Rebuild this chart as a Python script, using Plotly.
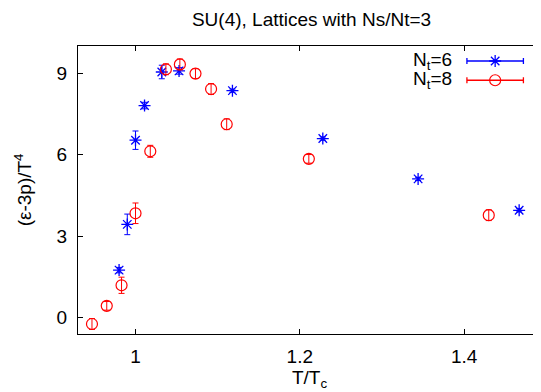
import plotly.graph_objects as go

# Nt = 6 data
t6 = [0.980, 0.990, 1.000, 1.011, 1.032, 1.053, 1.118, 1.228, 1.344, 1.467]
e6 = [1.74, 3.43, 6.54, 7.82, 9.06, 9.10, 8.37, 6.60, 5.11, 3.95]
err6 = [0.10, 0.38, 0.34, 0.12, 0.25, 0.12, 0.06, 0.06, 0.06, 0.06]

# Nt = 8 data
t8 = [0.947, 0.965, 0.983, 1.000, 1.018, 1.037, 1.054, 1.073, 1.092, 1.111, 1.211, 1.430]
e8 = [-0.25, 0.42, 1.18, 3.84, 6.13, 9.16, 9.34, 9.00, 8.43, 7.13, 5.85, 3.77]
err8 = [0.20, 0.16, 0.30, 0.38, 0.22, 0.20, 0.20, 0.18, 0.20, 0.20, 0.16, 0.20]

xticks = [1.0, 1.2, 1.4]
xticklabels = ["1", "1.2", "1.4"]
yticks = [0, 3, 6, 9]

BLUE = "#0000ff"
RED = "#ff0000"
FONT = "Liberation Sans, Arial, sans-serif"
FS = 19

fig = go.Figure()
fig.add_trace(go.Scatter(
    x=t6, y=e6, mode="markers", showlegend=False,
    marker=dict(symbol="asterisk-open", size=10, color=BLUE, line=dict(color=BLUE, width=1.3)),
    error_y=dict(type="data", array=err6, color=BLUE, thickness=1, width=3),
))
fig.add_trace(go.Scatter(
    x=t8, y=e8, mode="markers", showlegend=False,
    marker=dict(symbol="circle-open", size=11, color=RED, line=dict(color=RED, width=1.2)),
    error_y=dict(type="data", array=err8, color=RED, thickness=1, width=3),
))

# legend samples on an overlay axis in [0,1] coords
leg_y = [0.948, 0.881]
fig.add_trace(go.Scatter(
    x=[0.901], y=[leg_y[0]], xaxis="x2", yaxis="y2", mode="markers", showlegend=False,
    marker=dict(symbol="asterisk-open", size=10, color=BLUE, line=dict(color=BLUE, width=1.3)),
    error_x=dict(type="data", array=[0.061], color=BLUE, thickness=1.3, width=3),
))
fig.add_trace(go.Scatter(
    x=[0.901], y=[leg_y[1]], xaxis="x2", yaxis="y2", mode="markers", showlegend=False,
    marker=dict(symbol="circle-open", size=11, color=RED, line=dict(color=RED, width=1.2)),
    error_x=dict(type="data", array=[0.061], color=RED, thickness=1.3, width=3),
))
for lab, yy in zip(["N<sub>t</sub>=6", "N<sub>t</sub>=8"], leg_y):
    fig.add_annotation(x=0.812, y=yy, xref="x2", yref="y2", text=lab, showarrow=False,
                       xanchor="right", yanchor="middle",
                       font=dict(family=FONT, size=FS, color="black"))

# y-axis title
fig.add_annotation(x=-0.118, y=0.50, xref="paper", yref="paper", text="(ε-3p)/T<sup>4</sup>",
                   textangle=-90, showarrow=False, xanchor="center", yanchor="middle",
                   font=dict(family=FONT, size=FS, color="black"))

fig.update_layout(
    width=541, height=392,
    margin=dict(l=70, r=8, t=38, b=66, autoexpand=False),
    plot_bgcolor="white", paper_bgcolor="white",
    font=dict(family=FONT, size=FS, color="black"),
    title=dict(text="SU(4), Lattices with Ns/Nt=3", x=0.561, xanchor="center", y=0.972, yanchor="middle",
               font=dict(family=FONT, size=FS)),
    xaxis=dict(range=[0.930, 1.4936], tickvals=xticks, ticktext=xticklabels, automargin=False,
               ticks="inside", ticklen=5, tickcolor="black", showline=True, linecolor="black",
               linewidth=1, mirror="ticks", showgrid=False, zeroline=False,
               tickfont=dict(size=FS), ticklabelstandoff=5,
               title=dict(text="T/T<sub>c</sub>", standoff=4, font=dict(size=FS))),
    yaxis=dict(range=[-0.62, 10.02], tickvals=yticks, automargin=False,
               ticks="inside", ticklen=5, tickcolor="black", showline=True, linecolor="black",
               linewidth=1, mirror=False, showgrid=False, zeroline=False,
               tickfont=dict(size=FS), ticklabelstandoff=6),
    xaxis2=dict(range=[0, 1], overlaying="x", visible=False, fixedrange=True),
    yaxis2=dict(range=[0, 1], overlaying="y", visible=False, fixedrange=True),
)

fig.write_html("out.html")
